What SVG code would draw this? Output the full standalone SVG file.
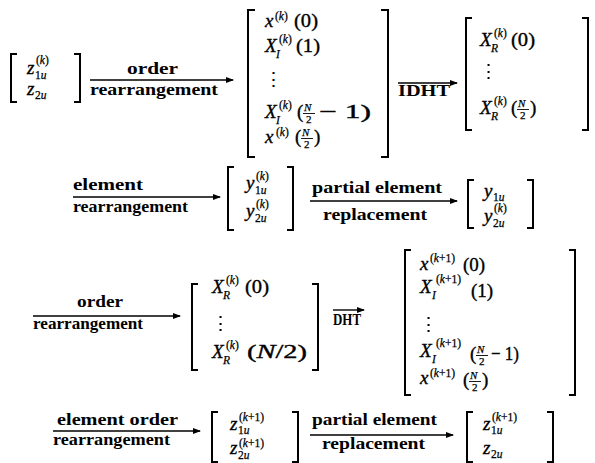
<svg xmlns="http://www.w3.org/2000/svg" width="595" height="463" viewBox="0 0 595 463">
<style>
text{font-family:"Liberation Serif","Times New Roman",serif;fill:#000}
.m{font-size:19px;font-style:italic;stroke:#000;stroke-width:0.35}
.r{font-size:19px;stroke:#000;stroke-width:0.35}
.s{font-size:11.5px;stroke:#000;stroke-width:0.25}
.i{font-style:italic}
.f{font-size:11px;font-style:italic;stroke:#000;stroke-width:0.25}
.f2{font-size:11px;stroke:#000;stroke-width:0.25}
.d{font-family:"DejaVu Serif",serif;font-size:19px}
.lb{font-size:17px;font-weight:bold}
.br{fill:none;stroke:#000;stroke-width:2}
.ar{fill:none;stroke:#000;stroke-width:1.4;marker-end:url(#ah)}
.fb{stroke:#000;stroke-width:0.9}
</style>
<defs>
<marker id="ah" markerUnits="userSpaceOnUse" markerWidth="8" markerHeight="6" refX="7" refY="3" orient="auto">
<path d="M0,0 L8,3 L0,6 z" fill="#000"/>
</marker>
</defs>

<g id="connectors">
<line class="ar" x1="90" y1="80" x2="233" y2="80"/>
<line class="ar" x1="398" y1="83" x2="457" y2="83"/>
<line class="ar" x1="73" y1="197" x2="220" y2="197"/>
<line class="ar" x1="310" y1="201" x2="457" y2="201"/>
<line class="ar" x1="33" y1="316" x2="180" y2="316"/>
<line class="ar" x1="333" y1="310" x2="364" y2="310"/>
<line class="ar" x1="53" y1="431" x2="200" y2="431"/>
<line class="ar" x1="310" y1="435" x2="453" y2="435"/>
</g>

<g id="labels">
<text class="lb" x="127" y="74" textLength="51" lengthAdjust="spacingAndGlyphs">order</text>
<text class="lb" x="90" y="95" textLength="128" lengthAdjust="spacingAndGlyphs">rearrangement</text>
<text class="lb" x="398" y="96" textLength="52" lengthAdjust="spacingAndGlyphs">IDHT</text>
<text class="lb" x="73" y="190" textLength="70" lengthAdjust="spacingAndGlyphs">element</text>
<text class="lb" x="73" y="212" textLength="115" lengthAdjust="spacingAndGlyphs">rearrangement</text>
<text class="lb" x="312" y="193" textLength="130" lengthAdjust="spacingAndGlyphs">partial element</text>
<text class="lb" x="323" y="220" textLength="104" lengthAdjust="spacingAndGlyphs">replacement</text>
<text class="lb" x="77" y="307" textLength="46" lengthAdjust="spacingAndGlyphs">order</text>
<text class="lb" x="33" y="329" textLength="110" lengthAdjust="spacingAndGlyphs">rearrangement</text>
<text class="lb" x="333" y="325" textLength="28" lengthAdjust="spacingAndGlyphs">DHT</text>
<text class="lb" x="57" y="425" textLength="121" lengthAdjust="spacingAndGlyphs">element order</text>
<text class="lb" x="53" y="445" textLength="117" lengthAdjust="spacingAndGlyphs">rearrangement</text>
<text class="lb" x="312" y="425" textLength="125" lengthAdjust="spacingAndGlyphs">partial element</text>
<text class="lb" x="322" y="449" textLength="103" lengthAdjust="spacingAndGlyphs">replacement</text>
</g>

<g id="m1">
<path class="br" d="M17,54 H11 V102 H17"/>
<path class="br" d="M74,54 H80 V102 H74"/>
<text class="m" x="27" y="74">z</text>
<text class="s" x="36" y="64">(<tspan class="i">k</tspan>)</text>
<text class="s" x="35" y="79">1<tspan class="i">u</tspan></text>
<text class="m" x="27" y="95">z</text>
<text class="s" x="35" y="99">2<tspan class="i">u</tspan></text>
</g>

<g id="m2">
<path class="br" d="M255,10 H248 V157 H255"/>
<path class="br" d="M381,10 H388 V157 H381"/>
<text class="m" x="265" y="27">x</text>
<text class="s" x="275" y="20">(<tspan class="i">k</tspan>)</text>
<text class="r" x="294" y="27" textLength="24" lengthAdjust="spacingAndGlyphs">(0)</text>
<text class="m" x="265" y="52">X</text>
<text class="s" x="279" y="43">(<tspan class="i">k</tspan>)</text>
<text class="s i" x="276" y="58">I</text>
<text class="r" x="296" y="52" textLength="24" lengthAdjust="spacingAndGlyphs">(1)</text>
<text class="d" x="264" y="86">⋮</text>
<text class="m" x="265" y="118">X</text>
<text class="s" x="279" y="109">(<tspan class="i">k</tspan>)</text>
<text class="s i" x="276" y="124">I</text>
<text class="r" x="297" y="118">(</text>
<text class="f" x="304" y="111">N</text>
<line class="fb" x1="303" y1="113.5" x2="315" y2="113.5"/>
<text class="f2" x="306" y="123">2</text>
<text class="r" x="319" y="118" textLength="52" lengthAdjust="spacingAndGlyphs">− 1)</text>
<text class="m" x="265" y="143">x</text>
<text class="s" x="276" y="136">(<tspan class="i">k</tspan>)</text>
<text class="r" x="295" y="143">(</text>
<text class="f" x="302" y="136">N</text>
<line class="fb" x1="301" y1="138.5" x2="313" y2="138.5"/>
<text class="f2" x="304" y="148">2</text>
<text class="r" x="314" y="143">)</text>
</g>

<g id="m3">
<path class="br" d="M472,18 H466 V130 H472"/>
<path class="br" d="M582,18 H588 V130 H582"/>
<text class="m" x="480" y="46">X</text>
<text class="s" x="494" y="37">(<tspan class="i">k</tspan>)</text>
<text class="s i" x="491" y="52">R</text>
<text class="r" x="511" y="46" textLength="24" lengthAdjust="spacingAndGlyphs">(0)</text>
<text class="d" x="479" y="78">⋮</text>
<text class="m" x="480" y="114">X</text>
<text class="s" x="494" y="105">(<tspan class="i">k</tspan>)</text>
<text class="s i" x="491" y="120">R</text>
<text class="r" x="511" y="114">(</text>
<text class="f" x="518" y="107">N</text>
<line class="fb" x1="517" y1="109.5" x2="529" y2="109.5"/>
<text class="f2" x="520" y="119">2</text>
<text class="r" x="530" y="114">)</text>
</g>

<g id="m4">
<path class="br" d="M234,167 H228 V230 H234"/>
<path class="br" d="M287,167 H293 V230 H287"/>
<text class="m" x="246" y="189">y</text>
<text class="s" x="256" y="180">(<tspan class="i">k</tspan>)</text>
<text class="s" x="255" y="194">1<tspan class="i">u</tspan></text>
<text class="m" x="246" y="217">y</text>
<text class="s" x="256" y="208">(<tspan class="i">k</tspan>)</text>
<text class="s" x="255" y="222">2<tspan class="i">u</tspan></text>
</g>

<g id="m5">
<path class="br" d="M474,180 H468 V228 H474"/>
<path class="br" d="M527,180 H533 V228 H527"/>
<text class="m" x="484" y="197">y</text>
<text class="s" x="493" y="201">1<tspan class="i">u</tspan></text>
<text class="m" x="484" y="222">y</text>
<text class="s" x="494" y="212">(<tspan class="i">k</tspan>)</text>
<text class="s" x="493" y="227">2<tspan class="i">u</tspan></text>
</g>

<g id="m6">
<path class="br" d="M198,284 H192 V370 H198"/>
<path class="br" d="M312,284 H318 V370 H312"/>
<text class="m" x="212" y="293">X</text>
<text class="s" x="226" y="284">(<tspan class="i">k</tspan>)</text>
<text class="s i" x="223" y="299">R</text>
<text class="r" x="245" y="293" textLength="24" lengthAdjust="spacingAndGlyphs">(0)</text>
<text class="d" x="211" y="330">⋮</text>
<text class="m" x="212" y="358">X</text>
<text class="s" x="226" y="349">(<tspan class="i">k</tspan>)</text>
<text class="s i" x="223" y="364">R</text>
<text class="r" x="247" y="358" textLength="60" lengthAdjust="spacingAndGlyphs">(<tspan class="i">N</tspan>/2)</text>
</g>

<g id="m7">
<path class="br" d="M411,250 H405 V395 H411"/>
<path class="br" d="M569,250 H575 V395 H569"/>
<text class="m" x="420" y="270">x</text>
<text class="s" x="430" y="262">(<tspan class="i">k</tspan>+1)</text>
<text class="r" x="463" y="271">(0)</text>
<text class="m" x="420" y="293">X</text>
<text class="s" x="436" y="283">(<tspan class="i">k</tspan>+1)</text>
<text class="s i" x="432" y="299">I</text>
<text class="r" x="471" y="297">(1)</text>
<text class="d" x="419" y="331">⋮</text>
<text class="m" x="420" y="357">X</text>
<text class="s" x="436" y="347">(<tspan class="i">k</tspan>+1)</text>
<text class="s i" x="432" y="363">I</text>
<text class="r" x="470" y="360">(</text>
<text class="f" x="477" y="353">N</text>
<line class="fb" x1="476" y1="355.5" x2="488" y2="355.5"/>
<text class="f2" x="479" y="365">2</text>
<text class="r" x="491" y="360" textLength="28" lengthAdjust="spacingAndGlyphs">− 1)</text>
<text class="m" x="420" y="384">x</text>
<text class="s" x="430" y="377">(<tspan class="i">k</tspan>+1)</text>
<text class="r" x="463" y="386">(</text>
<text class="f" x="470" y="379">N</text>
<line class="fb" x1="469" y1="381.5" x2="481" y2="381.5"/>
<text class="f2" x="472" y="391">2</text>
<text class="r" x="482" y="386">)</text>
</g>

<g id="m8">
<path class="br" d="M218,412 H212 V462 H218"/>
<path class="br" d="M292,412 H298 V462 H292"/>
<text class="m" x="230" y="430">z</text>
<text class="s" x="239" y="421">(<tspan class="i">k</tspan>+1)</text>
<text class="s" x="238" y="434">1<tspan class="i">u</tspan></text>
<text class="m" x="230" y="454">z</text>
<text class="s" x="239" y="447">(<tspan class="i">k</tspan>+1)</text>
<text class="s" x="238" y="459">2<tspan class="i">u</tspan></text>
</g>

<g id="m9">
<path class="br" d="M473,412 H467 V462 H473"/>
<path class="br" d="M547,412 H553 V462 H547"/>
<text class="m" x="483" y="430">z</text>
<text class="s" x="492" y="421">(<tspan class="i">k</tspan>+1)</text>
<text class="s" x="491" y="434">1<tspan class="i">u</tspan></text>
<text class="m" x="483" y="454">z</text>
<text class="s" x="491" y="458">2<tspan class="i">u</tspan></text>
</g>
</svg>
